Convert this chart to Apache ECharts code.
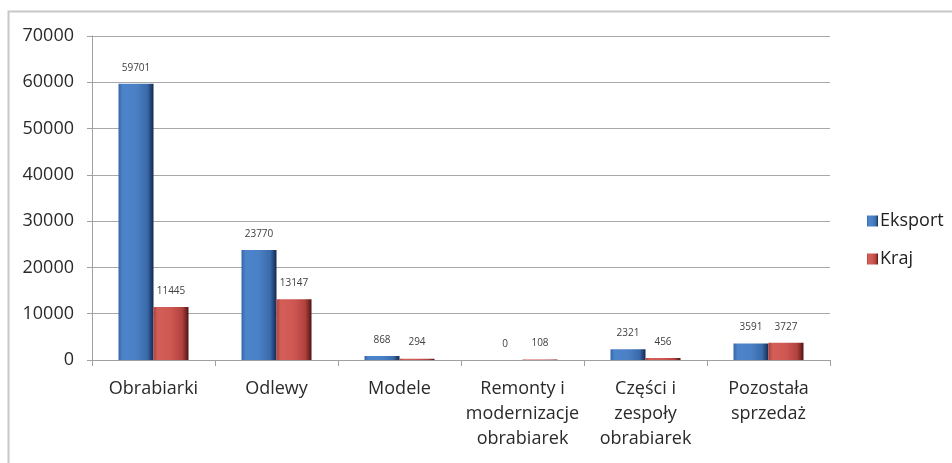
<!DOCTYPE html>
<html>
<head>
<meta charset="utf-8">
<script src="https://cdn.jsdelivr.net/npm/echarts@6/dist/echarts.min.js"></script>
<style>
  html, body { margin: 0; padding: 0; background: #fff; }
  #chart { width: 952px; height: 463px; }
</style>
</head>
<body>
<div id="chart"></div>
<script>
// Sales by product group: export vs domestic
const categories = [
  'Obrabiarki',
  'Odlewy',
  'Modele',
  'Remonty i\nmodernizacje\nobrabiarek',
  'Części i\nzespoły\nobrabiarek',
  'Pozostała\nsprzedaż'
];
const seriesNames = ['Eksport', 'Kraj'];
const eksport = [59701, 23770, 868, 0, 2321, 3591];
const kraj = [11445, 13147, 294, 108, 456, 3727];
const yTicks = { min: 0, max: 70000, interval: 10000 };

const FONT = '"Open Sans", "Noto Sans", sans-serif';

function barGradient(stops) {
  return new echarts.graphic.LinearGradient(0, 0, 1, 0,
    stops.map(([offset, color]) => ({ offset, color })));
}

const blueFill = barGradient([
  [0, '#3767A6'], [0.12, '#4C84CB'], [0.5, '#4A80C6'],
  [0.82, '#3A6BAA'], [0.92, '#24467A'], [1, '#15294A']
]);
const redFill = barGradient([
  [0, '#B0413D'], [0.12, '#D35E58'], [0.5, '#CF5752'],
  [0.82, '#B0423E'], [0.92, '#7E2825'], [1, '#4A1514']
]);

const chart = echarts.init(document.getElementById('chart'), null, { renderer: 'canvas' });

const labelCfg = {
  show: true,
  position: 'top',
  distance: 11,
  color: '#404040',
  fontSize: 10,
  fontFamily: FONT
};

chart.setOption({
  backgroundColor: '#ffffff',
  animation: false,
  graphic: [
    {
      type: 'polyline',
      shape: { points: [[8.5, 463], [8.5, 11.5], [952, 11.5]] },
      style: { stroke: '#c8c8c8', lineWidth: 2, fill: null },
      silent: true
    }
  ],
  grid: { left: 92, right: 122, top: 36, bottom: 103, containLabel: false },
  legend: {
    orient: 'vertical',
    left: 862,
    top: 207,
    itemWidth: 11,
    itemHeight: 11,
    itemGap: 20,
    icon: 'rect',
    textStyle: { fontFamily: FONT, fontSize: 18, color: '#222', padding: [0, 0, 0, -3] },
    data: seriesNames
  },
  xAxis: {
    type: 'category',
    data: categories,
    axisLine: { show: true, lineStyle: { color: '#a0a0a0', width: 1 } },
    axisTick: { show: true, length: 6, lineStyle: { color: '#a0a0a0' } },
    axisLabel: {
      fontFamily: FONT,
      fontSize: 18,
      color: '#2a2a2a',
      lineHeight: 25,
      margin: 16,
      interval: 0
    }
  },
  yAxis: {
    type: 'value',
    min: yTicks.min,
    max: yTicks.max,
    interval: yTicks.interval,
    axisLine: { show: true, lineStyle: { color: '#a0a0a0', width: 1 } },
    axisTick: { show: true, length: 5, lineStyle: { color: '#a0a0a0' } },
    splitLine: { show: true, lineStyle: { color: '#a8a8a8', width: 1 } },
    axisLabel: {
      fontFamily: FONT,
      fontSize: 18,
      color: '#2a2a2a',
      margin: 18,
      formatter: (v) => String(v)
    }
  },
  series: [
    {
      name: seriesNames[0],
      type: 'bar',
      data: eksport,
      barWidth: 35,
      barGap: '0%',
      itemStyle: { color: blueFill },
      label: labelCfg
    },
    {
      name: seriesNames[1],
      type: 'bar',
      data: kraj,
      barWidth: 35,
      itemStyle: { color: redFill },
      label: labelCfg
    }
  ]
});
</script>
</body>
</html>
